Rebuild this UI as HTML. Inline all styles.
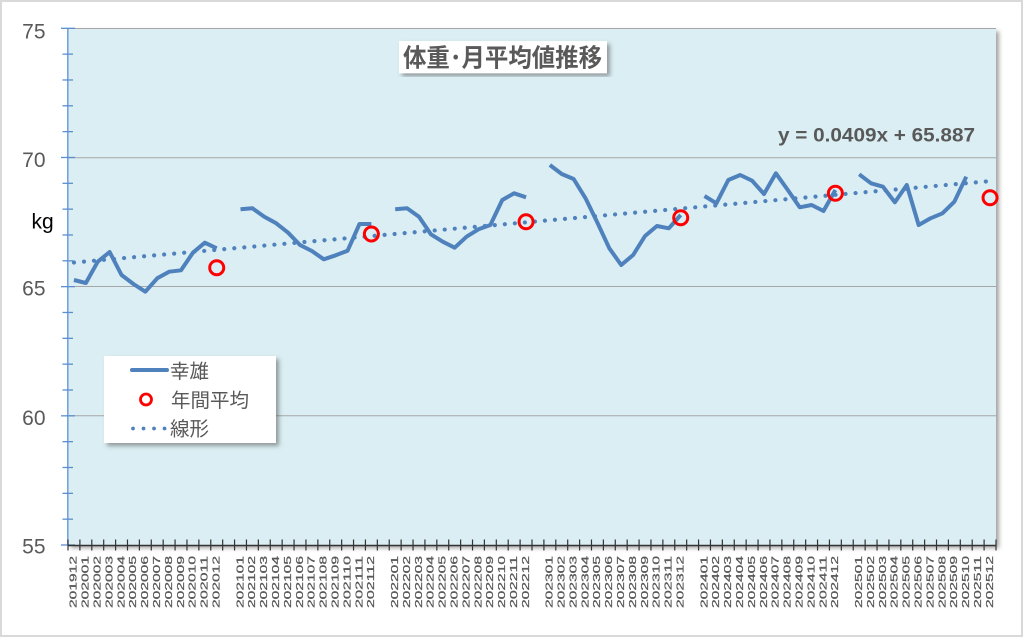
<!DOCTYPE html>
<html><head><meta charset="utf-8"><style>
html,body{margin:0;padding:0;background:#fff;}
svg{display:block;}
text{font-family:"Liberation Sans","Noto Sans CJK JP",sans-serif;}
</style></head><body>
<svg width="1024" height="638" viewBox="0 0 1024 638" xmlns="http://www.w3.org/2000/svg">
<defs>
<filter id="sh" x="-5%" y="-5%" width="115%" height="115%">
<feDropShadow dx="3" dy="3" stdDeviation="2" flood-color="#555" flood-opacity="0.55"/>
</filter>
</defs>
<rect x="0" y="0" width="1024" height="638" fill="#fff"/>
<rect x="1" y="1" width="1021" height="635" fill="#fff" stroke="#d9d9d9" stroke-width="2"/>
<!-- plot area -->
<rect x="68" y="28.3" width="928" height="516.7" fill="#daeef3" filter="url(#sh)"/>
<!-- gridlines -->
<g stroke="#a6a6a6" stroke-width="1">
<line x1="68" y1="28.5" x2="996" y2="28.5"/>
<line x1="68" y1="157.7" x2="996" y2="157.7"/>
<line x1="68" y1="286.5" x2="996" y2="286.5"/>
<line x1="68" y1="415.7" x2="996" y2="415.7"/>
</g>
<!-- y axis -->
<line x1="67.8" y1="28.3" x2="67.8" y2="545" stroke="#6f9fd6" stroke-width="1.5"/>
<g stroke="#5b8fd0" stroke-width="1.3" id="yt"></g>
<!-- y labels -->
<g fill="#595959" font-size="21" text-anchor="end">
<text x="45.5" y="38.3">75</text>
<text x="45.5" y="167">70</text>
<text x="45.5" y="295.5">65</text>
<text x="45.5" y="425">60</text>
<text x="45.5" y="553.5">55</text>
</g>
<text x="31.5" y="228.5" font-size="21" fill="#000">kg</text>
<!-- x axis -->
<line x1="68" y1="545.5" x2="996" y2="545.5" stroke="#333" stroke-width="1.5"/>
<g id="xt" stroke="#333" stroke-width="1.2"></g>
<g id="xl" fill="#595959" stroke="#595959" stroke-width="0.25" font-size="10"></g>
<!-- trend -->
<line x1="73.95" y1="262.5" x2="990.05" y2="181.1" stroke="#4f81bd" stroke-width="4.2" stroke-linecap="round" stroke-dasharray="0.01 10.05"/>
<!-- series -->
<g fill="none" stroke="#4f81bd" stroke-width="4" stroke-linejoin="round" stroke-linecap="butt">
<polyline points="73.95,280 85.85,283 97.75,261.7 109.64,252 121.54,275 133.44,284 145.33,291.7 157.23,278.3 169.13,271.7 181.03,270.3 192.92,252.7 204.82,242.7 216.72,248.3"/>
<polyline points="240.51,209.3 252.41,208.3 264.31,216.7 276.21,223.3 288.10,232.7 300.00,245 311.90,251 323.79,259.3 335.69,255.3 347.59,250.7 359.49,224 371.38,224"/>
<polyline points="395.18,209.3 407.08,208.3 418.97,216.7 430.87,234.3 442.77,241.7 454.67,247.7 466.56,236.7 478.46,229.3 490.36,225 502.26,200 514.15,193.3 526.05,197.3"/>
<polyline points="549.85,165 561.74,174 573.64,179 585.54,198.3 597.44,222.7 609.33,248.3 621.23,265 633.13,255 645.03,236 656.92,226 668.82,228.3 680.72,215"/>
<polyline points="704.51,196 716.41,203.3 728.31,180 740.21,175 752.10,180.7 764.00,194 775.90,173.3 787.79,190 799.69,207.3 811.59,205 823.49,211 835.38,190"/>
<polyline points="859.18,174.3 871.08,183.3 882.97,186.7 894.87,202.3 906.77,185 918.67,225 930.56,218.3 942.46,213.3 954.36,201.7 966.26,176.7"/>
</g>
<!-- annual averages -->
<g fill="none" stroke="#ff0000" stroke-width="3">
<circle cx="216.72" cy="267.7" r="7"/>
<circle cx="371.38" cy="234" r="7"/>
<circle cx="526.05" cy="221.7" r="7"/>
<circle cx="680.72" cy="217.7" r="7"/>
<circle cx="835.38" cy="193.3" r="7"/>
<circle cx="990.05" cy="197.7" r="7"/>
</g>
<!-- trend equation -->
<text x="778" y="141.5" font-size="19" font-weight="bold" fill="#595959" textLength="197" lengthAdjust="spacingAndGlyphs">y = 0.0409x + 65.887</text>
<!-- title -->
<rect x="399" y="41" width="208" height="32.3" fill="#fff" filter="url(#sh)"/>
<text x="403" y="66.5" font-size="25" font-weight="bold" fill="#595959" textLength="199" lengthAdjust="spacingAndGlyphs">体重･月平均値推移</text>
<!-- legend -->
<rect x="104" y="356" width="172" height="87" fill="#fff" filter="url(#sh)"/>
<line x1="132" y1="370" x2="167" y2="370" stroke="#4f81bd" stroke-width="4" stroke-linecap="round"/>
<circle cx="146" cy="399.5" r="5.5" fill="none" stroke="#ff0000" stroke-width="2.8"/>
<line x1="133" y1="428.5" x2="165" y2="428.5" stroke="#4f81bd" stroke-width="3.8" stroke-linecap="round" stroke-dasharray="0.01 10.5"/>
<g fill="#595959" font-size="19.5">
<text x="170" y="378">幸雄</text>
<text x="171" y="407">年間平均</text>
<text x="170" y="435.5">線形</text>
</g>
</svg>
<script>
(function(){
var ns="http://www.w3.org/2000/svg";
var yt=document.getElementById("yt");
for(var k=0;k<=20;k++){var y=28.3+k*25.835;var l=document.createElementNS(ns,"line");
var major=(k%5===0);l.setAttribute("x1",major?61:62.5);l.setAttribute("x2",major?75:73);
l.setAttribute("y1",y);l.setAttribute("y2",y);yt.appendChild(l);}
var xt=document.getElementById("xt");var w=928/78;
for(var k=0;k<=78;k++){var x=68+k*w;var l=document.createElementNS(ns,"line");
l.setAttribute("x1",x);l.setAttribute("x2",x);l.setAttribute("y1",539.5);l.setAttribute("y2",550.5);xt.appendChild(l);}
var labels=["201912"];
var years=[2020,2021,2022,2023,2024,2025];
for(var i=0;i<years.length;i++){if(i>0)labels.push("");for(var m=1;m<=12;m++){labels.push(years[i]+(m<10?"0":"")+m);}}
var xl=document.getElementById("xl");
for(var i=0;i<labels.length;i++){if(!labels[i])continue;var cx=68+(i+0.5)*w;
var t=document.createElementNS(ns,"text");t.setAttribute("transform","translate("+(cx+2.8)+",556) rotate(-90)");
t.setAttribute("text-anchor","end");t.setAttribute("textLength","52");t.setAttribute("lengthAdjust","spacingAndGlyphs");
t.textContent=labels[i];xl.appendChild(t);}
})();
</script>
</body></html>
